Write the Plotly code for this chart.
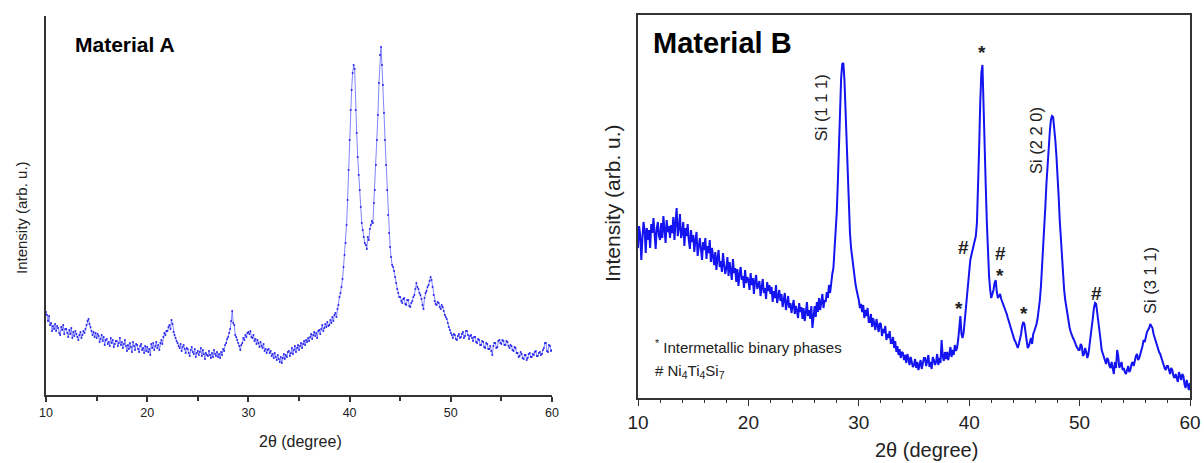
import plotly.graph_objects as go

# ---------------- data ----------------
two_theta_start = 10.0
two_theta_step = 0.1

# Material A intensity (arb. u.), 10.0 .. 60.0 deg, step 0.1 (one row per degree)
intensity_a = [
    83, 80, 74, 79, 70, 72, 64, 69, 66, 71,
    64, 69, 67, 62, 60, 68, 65, 70, 61, 66,
    66, 62, 58, 65, 61, 67, 57, 63, 59, 64,
    61, 58, 55, 60, 63, 57, 60, 64, 62, 66,
    70, 74, 76, 71, 68, 64, 60, 63, 58, 62,
    57, 61, 59, 53, 56, 60, 54, 58, 50, 55,
    56, 51, 53, 49, 57, 52, 55, 48, 51, 54,
    54, 49, 52, 57, 50, 53, 47, 51, 55, 49,
    44, 50, 46, 52, 48, 43, 53, 49, 45, 51,
    50, 46, 43, 49, 51, 45, 47, 42, 49, 44,
    48, 43, 46, 40, 51, 47, 52, 45, 49, 53,
    47, 50, 45, 52, 55, 51, 58, 62, 60, 64,
    64, 68, 70, 66, 75, 71, 63, 60, 57, 54,
    52, 49, 47, 51, 44, 48, 50, 46, 42, 47,
    46, 42, 39, 45, 48, 43, 41, 46, 38, 42,
    44, 40, 43, 47, 39, 45, 41, 36, 42, 40,
    39, 44, 40, 37, 42, 38, 45, 41, 39, 43,
    38, 41, 37, 43, 40, 46, 44, 50, 52, 56,
    58, 62, 66, 74, 84, 72, 70, 60, 58, 55,
    52, 49, 45, 50, 52, 57, 55, 60, 58, 62,
    63, 61, 64, 58, 57, 60, 54, 56, 51, 55,
    52, 48, 53, 49, 47, 51, 44, 46, 42, 45,
    46, 42, 44, 39, 41, 37, 42, 38, 35, 40,
    36, 33, 38, 32, 37, 41, 36, 40, 38, 43,
    44, 39, 42, 47, 41, 45, 49, 43, 47, 50,
    45, 49, 52, 47, 51, 54, 50, 55, 53, 57,
    54, 58, 61, 56, 60, 63, 59, 62, 57, 64,
    65, 61, 66, 70, 64, 67, 71, 68, 73, 69,
    70, 75, 72, 78, 74, 80, 82, 78, 86, 90,
    98, 102, 108, 116, 128, 140, 152, 170, 195, 225,
    255, 285, 305, 322, 330, 326, 285, 262, 238, 220,
    205, 188, 172, 165, 158, 152, 150, 146, 158, 155,
    166, 170, 174, 172, 192, 205, 230, 255, 280, 312,
    340, 348, 330, 310, 282, 255, 230, 205, 180, 162,
    148, 138, 130, 128, 124, 118, 112, 106, 102, 98,
    98, 94, 92, 96, 97, 91, 90, 95, 95, 89,
    88, 92, 94, 98, 100, 106, 112, 108, 106, 102,
    100, 96, 90, 86, 97, 102, 104, 108, 110, 114,
    118, 115, 108, 100, 94, 91, 90, 93, 92, 88,
    86, 90, 88, 84, 80, 78, 76, 72, 68, 65,
    62, 60, 57, 61, 60, 56, 55, 59, 61, 57,
    58, 61, 63, 57, 59, 64, 64, 60, 56, 59,
    60, 57, 54, 58, 58, 53, 52, 56, 55, 50,
    50, 54, 53, 48, 47, 52, 51, 46, 46, 49,
    44, 40, 49, 52, 52, 47, 48, 54, 55, 52,
    51, 55, 54, 50, 50, 54, 53, 49, 47, 50,
    49, 45, 44, 48, 47, 42, 42, 38, 39, 43,
    41, 37, 36, 40, 40, 35, 37, 41, 42, 38,
    38, 41, 40, 43, 44, 39, 39, 42, 43, 40,
    41, 45, 47, 52, 52, 44, 43, 50, 49, 44,
    45,
]

# Material B intensity (arb. u.), 10.0 .. 60.0 deg, step 0.1 (one row per degree)
intensity_b = [
    150, 172, 163, 138, 160, 176, 168, 145, 170, 158,
    168, 150, 174, 165, 180, 158, 149, 170, 176, 162,
    158, 175, 160, 182, 168, 155, 178, 166, 172, 160,
    173, 165, 181, 158, 176, 190, 162, 170, 184, 160,
    165, 176, 152, 170, 162, 174, 158, 149, 168, 156,
    163, 146, 158, 166, 142, 155, 160, 149, 138, 156,
    148, 160, 139, 152, 145, 158, 136, 150, 142, 133,
    146, 128, 140, 148, 131, 137, 126, 145, 133, 124,
    130, 141, 122, 136, 127, 118, 139, 125, 130, 116,
    129, 112, 124, 131, 118, 122, 110, 128, 115, 121,
    118, 108, 125, 113, 120, 104, 117, 123, 109, 114,
    117, 102, 112, 119, 105, 110, 99, 116, 107, 113,
    104, 111, 96, 107, 100, 113, 95, 103, 108, 97,
    104, 91, 99, 105, 88, 97, 102, 90, 95, 85,
    90, 98, 84, 92, 87, 80, 95, 86, 91, 79,
    90, 77, 85, 96, 82, 88, 79, 92, 70, 84,
    92, 81, 96, 86, 100, 88, 94, 104, 90, 98,
    96, 106, 100, 113, 105, 118, 124, 130, 145, 162,
    185, 215, 255, 292, 320, 334, 335, 318, 290, 255,
    215, 188, 165, 150, 140, 132, 120, 114, 108, 104,
    98, 90, 94, 86, 93, 80, 88, 82, 90, 76,
    76, 84, 71, 80, 74, 68, 79, 72, 66, 75,
    74, 62, 69, 65, 72, 58, 64, 60, 67, 55,
    55, 61, 50, 57, 46, 52, 43, 49, 40, 46,
    45, 38, 43, 35, 44, 39, 33, 41, 36, 31,
    33, 39, 30, 36, 28, 34, 38, 29, 35, 40,
    40, 32, 37, 43, 31, 36, 29, 41, 38, 33,
    36, 44, 33, 40, 35, 58, 42, 37, 46, 39,
    46, 38, 44, 51, 41, 48, 43, 53, 47, 50,
    58, 70, 82, 64, 60, 66, 78, 84, 98, 112,
    128, 138, 143, 148, 150, 156, 162, 175, 205, 250,
    295, 325, 333, 300, 255, 212, 175, 145, 122, 108,
    100, 104, 108, 115, 118, 106, 100, 102, 104, 99,
    96, 94, 92, 88, 84, 80, 76, 74, 70, 66,
    62, 58, 56, 52, 50, 54, 58, 64, 72, 76,
    74, 64, 56, 50, 52, 58, 60, 54, 64, 67,
    70, 74, 80, 88, 98, 112, 130, 150, 168, 192,
    215, 236, 252, 266, 278, 282, 281, 272, 258, 242,
    225, 202, 178, 158, 140, 122, 108, 98, 90, 82,
    76, 70, 66, 62, 60, 58, 54, 52, 50, 48,
    48, 54, 52, 42, 44, 50, 46, 40, 44, 52,
    62, 72, 80, 90, 95, 94, 86, 76, 68, 58,
    48, 44, 42, 36, 34, 40, 38, 32, 30, 36,
    28, 24, 36, 30, 48, 42, 30, 34, 36, 28,
    30, 26, 24, 28, 32, 26, 28, 34, 36, 32,
    38, 42, 44, 38, 40, 46, 48, 52, 58, 56,
    62, 66, 68, 70, 74, 72, 70, 64, 60, 56,
    52, 50, 46, 44, 40, 36, 34, 30, 28, 32,
    32, 26, 24, 30, 28, 22, 20, 24, 20, 16,
    26, 20, 18, 24, 22, 14, 10, 18, 12, 8,
    15,
]

two_theta = [round(two_theta_start + i * two_theta_step, 1) for i in range(len(intensity_a))]

tick_vals = [10, 20, 30, 40, 50, 60]
tick_text = ["10", "20", "30", "40", "50", "60"]

# peak labels for Material B: (2theta, intensity, text)
peak_x = [26.6, 41.16, 46.05, 39.44, 42.79, 42.79, 39.08, 44.96, 51.49, 56.38]
peak_y = [290, 345, 258, 151, 145, 123, 90, 85, 105, 117]
peak_text = ["Si (1 1 1)", "*", "Si (2 2 0)", "#", "#", "*", "*", "*", "#", "Si (3 1 1)"]

legend_lines = ["<sup>*</sup> Intermetallic binary phases",
                "# Ni<sub>4</sub>Ti<sub>4</sub>Si<sub>7</sub>"]
legend_y = [52, 27]

x_title = "2θ (degree)"
y_title = "Intensity (arb. u.)"

# ---------------- figure ----------------
W, H = 1204, 463
FONT = "Arial, Liberation Sans, sans-serif"
fig = go.Figure()

fig.add_trace(go.Scatter(
    x=two_theta, y=intensity_a, mode="lines+markers",
    line=dict(color="rgba(80,80,255,0.7)", width=1),
    marker=dict(color="rgb(40,40,235)", size=2),
    xaxis="x", yaxis="y", showlegend=False, name="Material A",
))
fig.add_trace(go.Scatter(
    x=two_theta, y=intensity_b, mode="lines",
    line=dict(color="rgb(20,20,240)", width=2),
    xaxis="x2", yaxis="y2", showlegend=False, name="Material B",
))

axis_col = "#333333"
fig.update_layout(
    width=W, height=H,
    margin=dict(l=0, r=0, t=0, b=0, autoexpand=False),
    paper_bgcolor="white", plot_bgcolor="white",
    font=dict(family=FONT, color="#222222"),
    xaxis=dict(
        domain=[46 / W, 552 / W], range=[10, 60], anchor="y", automargin=False,
        showline=True, linecolor=axis_col, linewidth=1.5,
        ticks="outside", ticklen=5, tickwidth=1.5, tickcolor=axis_col,
        tickvals=tick_vals, ticktext=tick_text,
        tickfont=dict(size=12.5, color="#222222"),
        minor=dict(dtick=5, ticks="outside", ticklen=4, tickwidth=1.5, tickcolor=axis_col),
        showgrid=False, zeroline=False,
    ),
    yaxis=dict(
        domain=[1 - 395 / H, 1 - 16 / H], range=[0, 379], anchor="x", automargin=False,
        showline=True, linecolor=axis_col, linewidth=1.5,
        showticklabels=False, ticks="", showgrid=False, zeroline=False,
    ),
    xaxis2=dict(
        domain=[638 / W, 1190 / W], range=[10, 60], anchor="y2", automargin=False,
        showline=True, mirror=True, linecolor=axis_col, linewidth=1.5,
        ticks="outside", ticklen=6, tickwidth=1.3, tickcolor=axis_col,
        tickvals=tick_vals, ticktext=tick_text,
        tickfont=dict(size=19, color="#222222"),
        minor=dict(dtick=2, ticks="outside", ticklen=3, tickwidth=1.3, tickcolor=axis_col),
        showgrid=False, zeroline=False,
    ),
    yaxis2=dict(
        domain=[1 - 398 / H, 1 - 15 / H], range=[0, 383], anchor="x2", automargin=False,
        showline=True, mirror=True, linecolor=axis_col, linewidth=1.5,
        showticklabels=False, ticks="", showgrid=False, zeroline=False,
    ),
)

# axis titles (placed in page pixels)
def paper_text(text, px, py, size, angle=0, bold=False, color="#222222", anchor="center"):
    fig.add_annotation(
        text="<b>" + text + "</b>" if bold else text,
        xref="paper", yref="paper", x=px / W, y=1 - py / H,
        xanchor=anchor, yanchor="middle", textangle=angle, showarrow=False,
        font=dict(size=size, color=color, family=FONT),
    )

paper_text(x_title, 300, 441, 16)
paper_text(y_title, 21, 218, 15, angle=-90)
paper_text(x_title, 926, 450, 20)
paper_text(y_title, 612, 203, 21, angle=-90)

# panel titles
paper_text("Material A", 73, 44, 21, bold=True, color="black", anchor="left")
paper_text("Material B", 651, 43, 29, bold=True, color="black", anchor="left")

# peak labels
for px_, py_, t in zip(peak_x, peak_y, peak_text):
    rotated = t.startswith("Si")
    fig.add_annotation(
        text=t if rotated else "<b>" + t + "</b>",
        x=px_, y=py_, xref="x2", yref="y2", showarrow=False,
        textangle=-90 if rotated else 0,
        xanchor="center", yanchor="middle",
        font=dict(size=16.5 if rotated else 19, color="#222222", family=FONT),
    )

# legend-like notes
for line, ly in zip(legend_lines, legend_y):
    fig.add_annotation(
        text=line, x=11.4, y=ly, xref="x2", yref="y2",
        xanchor="left", yanchor="middle", showarrow=False,
        font=dict(size=15, color="#222222", family=FONT),
    )

fig.write_html(
    "out.html",
    config={"displayModeBar": False},
    post_script="document.body.style.margin='0';document.body.style.padding='0';"
                "document.body.style.overflow='hidden';",
)
